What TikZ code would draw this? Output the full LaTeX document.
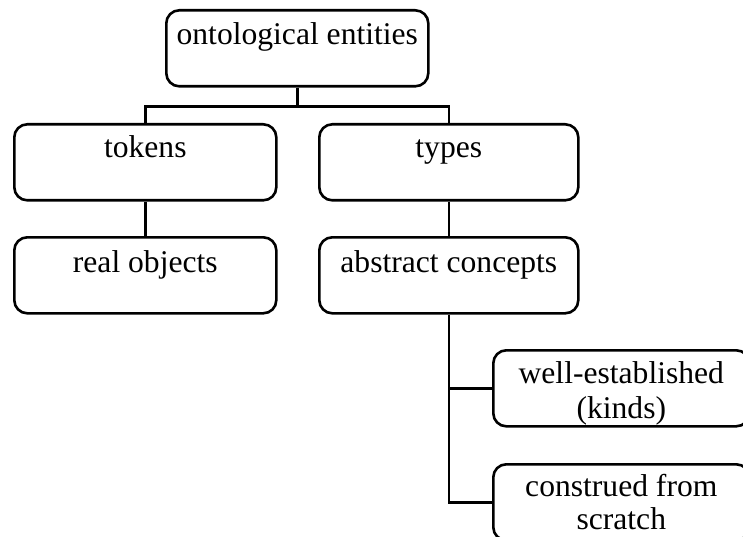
\documentclass[tikz,border=0pt]{standalone}
\usepackage{fontspec}
\setmainfont{Liberation Serif}
\usetikzlibrary{calc}
\begin{document}
\begin{tikzpicture}[x=1pt,y=-1pt,
  box/.style={draw=black, line width=2.6pt, rounded corners=13pt, minimum height=76pt, inner sep=0pt, anchor=north west},
  lbl/.style={font=\fontsize{31.6pt}{35pt}\selectfont, anchor=base, inner sep=0pt, align=center},
  conn/.style={draw=black, line width=2.6pt}]
\useasboundingbox (0,0) rectangle (743,537);
\node[box, minimum width=262pt] (top) at (165,9) {};
\node[box, minimum width=262pt] (tokens) at (13,123) {};
\node[box, minimum width=259pt] (types) at (318,123) {};
\node[box, minimum width=262pt] (real) at (13,236) {};
\node[box, minimum width=259pt] (abs) at (318,236) {};
\node[box, minimum width=256pt] (well) at (492,349) {};
\node[box, minimum width=256pt] (cons) at (492,463) {};
\node[lbl] (ttop) at ($(top.north)+(0,36)$) {ontological entities};
\node[lbl] (ttok) at ($(tokens.north)+(0,35)$) {tokens};
\node[lbl] (ttyp) at ($(types.north)+(0,35)$) {types};
\node[lbl] (treal) at ($(real.north)+(0,36)$) {real objects};
\node[lbl] (tabs) at ($(abs.north)+(0,36)$) {abstract concepts};
\node[lbl] (twell) at ($(well.north)+(0,69)$) {well-established\\(kinds)};
\node[lbl, font=\fontsize{31.6pt}{33pt}\selectfont] (tcons) at ($(cons.north)+(0,66)$) {construed from\\scratch};
\coordinate (j) at ($(top.south)+(0,19)$);
\draw[conn] (top.south) -- (j);
\draw[conn] (tokens.north) |- (j) -| (types.north);
\draw[conn] (tokens.south) -- (real.north);
\draw[conn] (types.south) -- (abs.north);
\draw[conn] (abs.south) |- (well.west);
\draw[conn] (abs.south) |- (cons.west);
\end{tikzpicture}
\end{document}
